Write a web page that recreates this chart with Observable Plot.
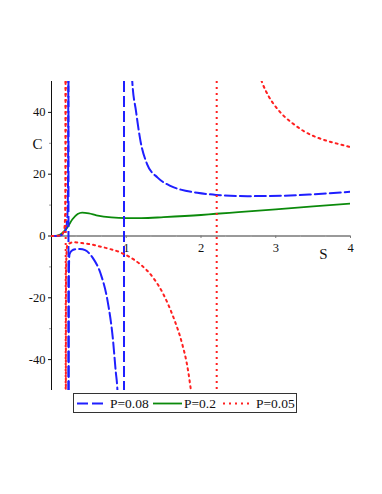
<!DOCTYPE html>
<html>
<head>
<meta charset="utf-8">
<script src="https://cdn.jsdelivr.net/npm/d3@7"></script>
<script src="https://cdn.jsdelivr.net/npm/@observablehq/plot@0.6"></script>
<style>
  body { margin: 0; background: white; width: 382px; height: 494px; position: relative; overflow: hidden; font-family: "Liberation Serif", serif; }
  #chart { position: absolute; left: 0; top: 0; }
  #legend { position: absolute; left: 73px; top: 393px; width: 222px; height: 18px; border: 1.5px solid #333; background: white; }
  #legend .sample { position: absolute; top: 0; }
  #legend .label { position: absolute; top: 0; height: 18px; line-height: 19px; font-size: 13.5px; color: #111; white-space: nowrap; }
</style>
</head>
<body>
<div id="chart"></div>
<div id="legend"></div>
<script>
// ---- Data (S, C) ----
const seriesNames = ["P=0.08", "P=0.2", "P=0.05"];

// P = 0.08 (blue dashed), three branches
const sBlue1 = [0, 0.05, 0.1, 0.15, 0.19, 0.205, 0.215, 0.222, 0.226];
const cBlue1 = [0, 0.02, 0.1, 0.5, 2, 4, 8, 20, 70];
const sBlue2 = [0.228, 0.232, 0.24, 0.27, 0.32, 0.38, 0.45, 0.55, 0.66, 0.75, 0.82, 0.86, 0.88, 0.9];
const cBlue2 = [-70, -12, -6, -4.8, -4.3, -4.2, -4.6, -7, -12.4, -21, -33, -44, -49, -60];
const sBlue3 = [0.975, 1.0, 1.03, 1.06, 1.08, 1.13, 1.19, 1.28, 1.42, 1.59, 1.73, 1.95, 2.2, 2.62, 3.07, 3.51, 4.0];
const cBlue3 = [300, 140, 85, 60, 50.2, 40.5, 30.8, 23.2, 18.9, 16.2, 15.0, 14.0, 13.3, 12.9, 13.0, 13.5, 14.3];
const blueAsymptotes = [0.227, 0.97];

// P = 0.2 (green solid)
const sGreen = [0, 0.05, 0.1, 0.15, 0.21, 0.28, 0.35, 0.41, 0.5, 0.6, 0.8, 1.0, 1.2, 1.5, 2.0, 2.2, 2.5, 3.0, 3.5, 4.0];
const cGreen = [0, 0.05, 0.3, 1.1, 2.7, 5.4, 7.1, 7.55, 7.3, 6.7, 6.0, 5.8, 5.8, 6.1, 6.8, 7.2, 7.7, 8.6, 9.6, 10.5];

// P = 0.05 (red dotted), three branches
const sRed1 = [0, 0.05, 0.1, 0.14, 0.17, 0.18, 0.186, 0.189];
const cRed1 = [0, 0.01, 0.1, 0.5, 2, 5, 15, 70];
const sRed2 = [0.191, 0.195, 0.21, 0.26, 0.3, 0.35, 0.44, 0.53, 0.61, 0.75, 0.93, 1.06, 1.19, 1.36, 1.5, 1.61, 1.66, 1.72, 1.76, 1.8, 1.83, 1.86, 1.9];
const cRed2 = [-70, -10, -3, -2.2, -2.0, -2.1, -2.4, -2.7, -3.2, -4.0, -5.4, -7.0, -9.2, -13.5, -19.0, -25.0, -28.2, -32.5, -36.0, -40.0, -44.0, -49.0, -56.0];
const sRed3 = [2.215, 2.25, 2.35, 2.5, 2.65, 2.81, 2.91, 3.0, 3.11, 3.24, 3.37, 3.51, 3.67, 3.82, 3.98, 4.0];
const cRed3 = [500, 300, 150, 90, 65, 50.2, 45, 41.8, 38.8, 36.2, 34.0, 32.3, 30.9, 29.9, 28.9, 28.8];
const redAsymptotes = [0.19, 2.21];

// Axis ticks
const xTicks = [1, 2, 3, 4];
const xMinorTicks = [0.33, 0.67, 1.33, 1.67, 2.33, 2.67, 3.33, 3.67];
const yTicks = [-40, -20, 0, 20, 40];
const yMinorTicks = [-30, -10, 10, 30];

// ---- Build tables ----
const toRows = (s, c, branch) => s.map((v, i) => ({S: v, C: c[i], branch}));
const blueRows = [...toRows(sBlue1, cBlue1, 1), ...toRows(sBlue2, cBlue2, 2), ...toRows(sBlue3, cBlue3, 3)];
const greenRows = toRows(sGreen, cGreen, 1);
const redRows = [...toRows(sRed1, cRed1, 1), ...toRows(sRed2, cRed2, 2), ...toRows(sRed3, cRed3, 3)];

const BLUE = "#1f1fff", GREEN = "#0b8a0b", RED = "#ff2020";
const blueStyle = {stroke: BLUE, strokeWidth: 2, strokeDasharray: "11,4"};
const greenStyle = {stroke: GREEN, strokeWidth: 1.8};
const redStyle = {stroke: RED, strokeWidth: 2, strokeDasharray: "2,4"};

const plot = Plot.plot({
  width: 382,
  height: 392,
  marginLeft: 51,
  marginRight: 32,
  marginTop: 81,
  marginBottom: 2,
  x: {domain: [0, 4], axis: null},
  y: {domain: [-50, 50], axis: null},
  style: {fontFamily: "Liberation Serif, serif", fontSize: "12.5px", background: "white", color: "#111", overflow: "visible"},
  marks: [
    // y axis (left edge at S=0)
    Plot.axisY({ticks: yTicks, tickSize: 3, tickPadding: 3, tickFormat: d => String(d), label: null, fontSize: 12.5}),
    Plot.axisY({ticks: yMinorTicks, tickSize: 2, text: null, label: null, stroke: "#999"}),
    Plot.ruleX([0], {stroke: "#111", strokeWidth: 1}),
    // x axis through C = 0
    Plot.ruleY([0], {stroke: "#777", strokeWidth: 1.3}),
    Plot.ruleX(xTicks, {x: d => d, y1: 0, y2: -0.8, stroke: "#777"}),
    Plot.ruleX(xMinorTicks, {x: d => d, y1: 0, y2: -0.5, stroke: "#aaa"}),
    Plot.text(xTicks, {x: d => d, y: 0, dy: 12, text: d => String(d), fontSize: 12.5}),
    // axis titles
    Plot.text(["C"], {frameAnchor: "top-left", dx: -19, dy: 57, fontSize: 15}),
    Plot.text(["S"], {frameAnchor: "right", dx: -23, dy: 18, fontSize: 15}),
    // green curve
    Plot.line(greenRows, {x: "S", y: "C", curve: "monotone-x", clip: true, ...greenStyle}),
    // blue curve + asymptote joins
    Plot.ruleX(blueAsymptotes, {x: d => d, ...blueStyle}),
    Plot.line(blueRows, {x: "S", y: "C", z: "branch", curve: "monotone-x", clip: true, ...blueStyle}),
    // red curve + asymptote joins
    Plot.ruleX(redAsymptotes, {x: d => d, ...redStyle}),
    Plot.line(redRows, {x: "S", y: "C", z: "branch", curve: "monotone-x", clip: true, ...redStyle})
  ]
});
document.getElementById("chart").appendChild(plot);

// ---- Legend ----
const legendItems = [
  {name: seriesNames[0], style: blueStyle, sx: 3, sw: 30, tx: 36},
  {name: seriesNames[1], style: greenStyle, sx: 79, sw: 29, tx: 110},
  {name: seriesNames[2], style: redStyle, sx: 149, sw: 26, tx: 182}
];
const legend = document.getElementById("legend");
for (const it of legendItems) {
  const svg = d3.create("svg").attr("class", "sample").attr("width", it.sw).attr("height", 18)
    .style("left", it.sx + "px");
  svg.append("line").attr("x1", 0).attr("x2", it.sw).attr("y1", 9.5).attr("y2", 9.5)
    .attr("stroke", it.style.stroke).attr("stroke-width", it.style.strokeWidth)
    .attr("stroke-dasharray", it.style.strokeDasharray || null);
  legend.appendChild(svg.node());
  const span = document.createElement("span");
  span.className = "label";
  span.style.left = it.tx + "px";
  span.textContent = it.name;
  legend.appendChild(span);
}
</script>
</body>
</html>
